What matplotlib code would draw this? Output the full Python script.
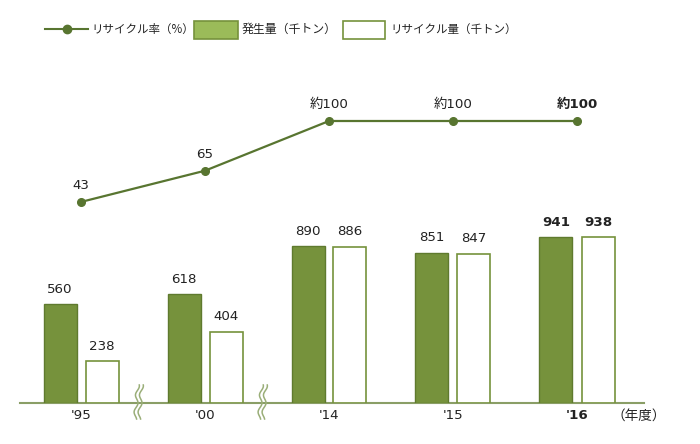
import matplotlib
matplotlib.use("Agg")
import matplotlib.pyplot as plt
import numpy as np
from matplotlib.lines import Line2D
from matplotlib.patches import Rectangle

plt.rcParams['font.family'] = ['DejaVu Sans', 'Noto Sans CJK JP']
CJK = ['Noto Sans CJK JP', 'DejaVu Sans']

years = ["'95", "'00", "'14", "'15", "'16"]
generated = [560, 618, 890, 851, 941]
recycled = [238, 404, 886, 847, 938]
rate = [43, 65, 100, 100, 100]
rate_labels = ["43", "65", "約100", "約100", "約100"]
bold_idx = 4

W, H = 700, 444
fig = plt.figure(figsize=(W / 100, H / 100), dpi=100)

# pixel layout
ax_left_px, ax_right_px = 20, 644
ax_bottom_px, ax_top_px = 403, 60
c0_px, step_px = 81, 124
bar_px_per_unit = 0.1765
rate_zero_px, rate_px_per_unit = 263, 1.42

ax = fig.add_axes([ax_left_px / W, (H - ax_bottom_px) / H,
                   (ax_right_px - ax_left_px) / W, (ax_bottom_px - ax_top_px) / H])
x = np.arange(len(years))
ax.set_xlim((ax_left_px - c0_px) / step_px, (ax_right_px - c0_px) / step_px)
ax.set_ylim(0, (ax_bottom_px - ax_top_px) / bar_px_per_unit)

green = '#76923c'
dark = '#587530'
width = 33 / step_px
off = 21 / step_px
ax.bar(x - off, generated, width, color=green, edgecolor='#5f7a2e', linewidth=1.0, zorder=3)
ax.bar(x + off, recycled, width, color='white', edgecolor=green, linewidth=1.2, zorder=3)

for i in x:
    fw = 'bold' if i == bold_idx else 'normal'
    ax.annotate(str(generated[i]), (i - off, generated[i]), xytext=(0, 6), textcoords='offset points',
                ha='center', va='bottom', fontsize=9.6, fontweight=fw, color='#222222')
    ax.annotate(str(recycled[i]), (i + off, recycled[i]), xytext=(0, 6), textcoords='offset points',
                ha='center', va='bottom', fontsize=9.6, fontweight=fw, color='#222222')

for s in ['top', 'right', 'left']:
    ax.spines[s].set_visible(False)
ax.spines['bottom'].set_color('#8a9e66')
ax.spines['bottom'].set_linewidth(1.5)
ax.set_yticks([])
ax.set_xticks(x)
ax.set_xticklabels(years, fontsize=9.6, color='#222222')
ax.tick_params(axis='x', length=0, pad=4)
for i, lab in enumerate(ax.get_xticklabels()):
    if i == bold_idx:
        lab.set_fontweight('bold')
ax.annotate('（年度）', ((639 - c0_px) / step_px, 0), xytext=(0, -4), textcoords='offset points',
            ha='center', va='top', fontsize=9.8, color='#222222', family=CJK)

# rate line on twin axes
ax2 = ax.twinx()
ax2.set_ylim((rate_zero_px - ax_bottom_px) / rate_px_per_unit, (rate_zero_px - ax_top_px) / rate_px_per_unit)
ax2.axis('off')
ax2.plot(x, rate, color=dark, linewidth=1.6, marker='o', markersize=5.5, zorder=5)
for i in x:
    fw = 'bold' if i == bold_idx else 'normal'
    ax2.annotate(rate_labels[i], (i, rate[i]), xytext=(0, 7), textcoords='offset points',
                 ha='center', va='bottom', fontsize=9.6, fontweight=fw, color='#222222')

# axis break marks
for b in [0.5, 1.5]:
    ys_px = np.linspace(385, 419, 80)
    cx = c0_px + b * step_px - 4.5
    for d in [-2.0, 2.0]:
        xs_px = cx + d - 0.08 * (ys_px - 402) + 1.6 * np.sin(2 * np.pi * (ys_px - 399) / 17)
        fig.add_artist(Line2D(xs_px / W, (H - ys_px) / H, color='#9aae78', linewidth=1.1,
                              transform=fig.transFigure))

# legend
ly = (H - 29) / H
fig.add_artist(Line2D([45 / W, 88 / W], [ly, ly], color=dark, linewidth=1.5))
fig.add_artist(Line2D([67 / W], [ly], color=dark, marker='o', markersize=6, linestyle='none'))
fig.text(91 / W, ly, 'リサイクル率（%）', fontsize=8.3, va='center', ha='left', color='#222222', family=CJK)
fig.add_artist(Rectangle((194 / W, (H - 39) / H), 44 / W, 18 / H, facecolor='#9bbb59',
                         edgecolor='#76923c', linewidth=1.2, transform=fig.transFigure))
fig.text(242 / W, ly, '発生量（千トン）', fontsize=8.6, va='center', ha='left', color='#222222', family=CJK)
fig.add_artist(Rectangle((343 / W, (H - 39) / H), 42 / W, 18 / H, facecolor='white',
                         edgecolor='#76923c', linewidth=1.2, transform=fig.transFigure))
fig.text(390 / W, ly, 'リサイクル量（千トン）', fontsize=8.3, va='center', ha='left', color='#222222', family=CJK)

fig.savefig('out.png', dpi=100)
